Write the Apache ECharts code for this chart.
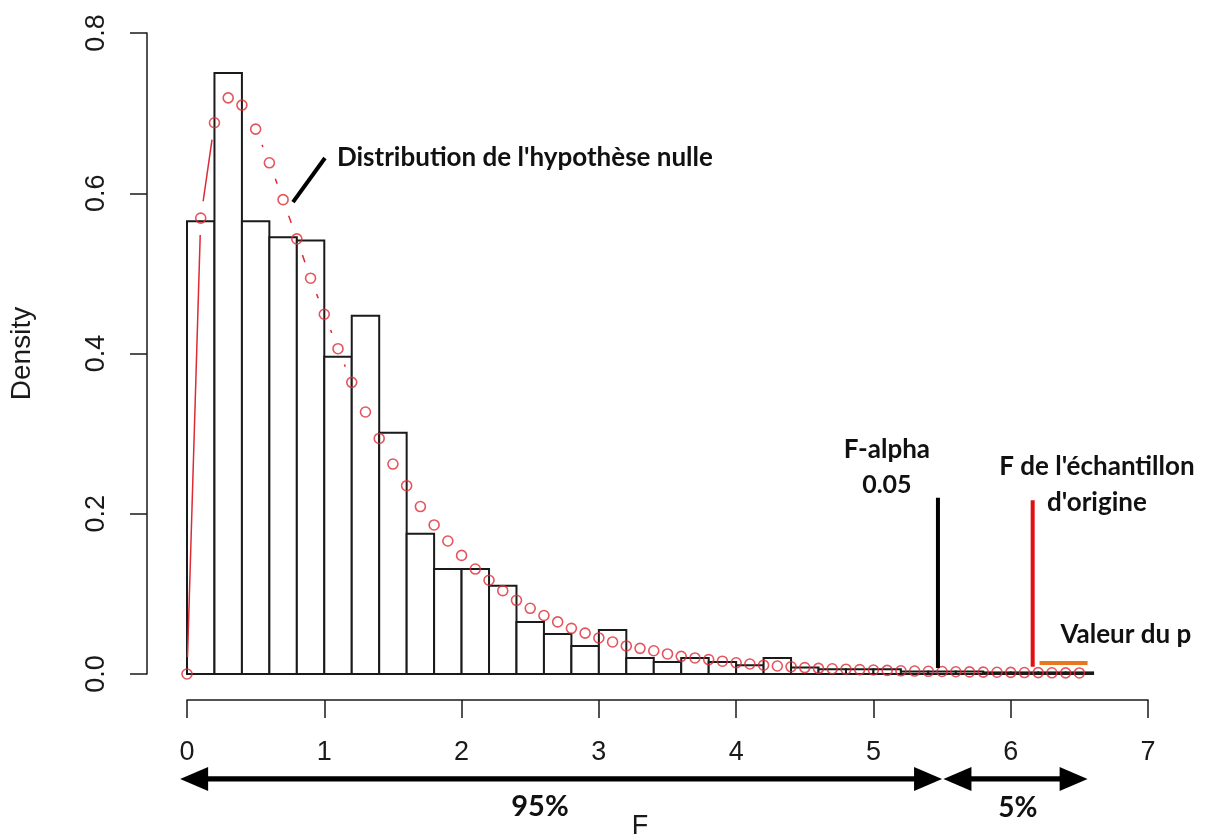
<!DOCTYPE html>
<html><head><meta charset="utf-8">
<script src="https://cdn.jsdelivr.net/npm/echarts@6/dist/echarts.min.js"></script>
<style>html,body{margin:0;padding:0;background:#fff}#c{width:1209px;height:836px}</style>
</head><body><div id="c"></div>
<script>
// ---------- data ----------
const binStarts = [0,0.2,0.4,0.6,0.8,1.0,1.2,1.4,1.6,1.8,2.0,2.2,2.4,2.6,2.8,3.0,3.2,3.4,3.6,3.8,4.0,4.2,4.4,4.6,4.8,5.0,5.2,5.4,5.6,5.8,6.0,6.2,6.4];
const binWidth = 0.2;
const histDensity = [0.565,0.750,0.565,0.545,0.541,0.396,0.447,0.301,0.175,0.131,0.131,0.110,0.065,0.050,0.035,0.055,0.020,0.015,0.020,0.015,0.011,0.020,0.008,0.006,0.006,0.006,0.003,0.003,0.003,0.002,0.002,0.002,0.002];
const curveX = [0,0.1,0.2,0.3,0.4,0.5,0.6,0.7,0.8,0.9,1.0,1.1,1.2,1.3,1.4,1.5,1.6,1.7,1.8,1.9,2.0,2.1,2.2,2.3,2.4,2.5,2.6,2.7,2.8,2.9,3.0,3.1,3.2,3.3,3.4,3.5,3.6,3.7,3.8,3.9,4.0,4.1,4.2,4.3,4.4,4.5,4.6,4.7,4.8,4.9,5.0,5.1,5.2,5.3,5.4,5.5,5.6,5.7,5.8,5.9,6.0,6.1,6.2,6.3,6.4,6.5];
const curveY = [0,0.569,0.688,0.719,0.710,0.680,0.638,0.592,0.543,0.494,0.449,0.406,0.364,0.327,0.294,0.262,0.235,0.209,0.186,0.166,0.148,0.131,0.117,0.104,0.092,0.082,0.073,0.065,0.057,0.051,0.045,0.040,0.035,0.032,0.029,0.025,0.022,0.020,0.018,0.016,0.014,0.0125,0.011,0.010,0.009,0.008,0.007,0.0065,0.006,0.0055,0.005,0.0045,0.004,0.0037,0.0034,0.0031,0.0028,0.0026,0.0024,0.0022,0.002,0.0018,0.0017,0.0015,0.0014,0.0013];
const xTickMin = 0, xTickMax = 7, xTickStep = 1;
const yTickMin = 0, yTickMax = 0.8, yTickStep = 0.2;

// annotations (data units)
const fAlpha = 5.47, fAlphaY = [0.0075, 0.22];
const fSample = 6.16, fSampleY = [0.009, 0.217];
const pValueSpan = [6.21, 6.56], pValueY = 0.0137;
const pointerLine = [[0.772, 0.589], [1.005, 0.644]];
const arrowSpans = [[-0.05, 5.50], [5.51, 6.56]];
const arrowY = -0.131;
const labelTexts = ["Distribution de l'hypothèse nulle", "F-alpha", "0.05", "F de l'échantillon", "d'origine", "Valeur du p", "95%", "5%"];
const labelX = [1.092, 5.098, 5.098, 6.628, 6.628, 6.839, 2.571, 6.052];
const labelY = [0.644, 0.2796, 0.2359, 0.2583, 0.2134, 0.0487, -0.166, -0.167];

// ---------- styles ----------
const RED = '#dd2a35';
const INK = '#1a1a1a';
const AXIS_FONT = '"Liberation Sans", Arial, Helvetica, sans-serif';
const ANN_FONT = 'Lato, "Open Sans", sans-serif';
const labelStyle = [
  {size:26, align:'left'}, {size:26, align:'center'}, {size:25, align:'center'},
  {size:26, align:'center'}, {size:26, align:'center'}, {size:26, align:'center'},
  {size:29, align:'center'}, {size:28, align:'center'}
];

const histData = binStarts.map((s, i) => [s, s + binWidth, histDensity[i]]);
const segData = curveX.slice(1).map((x, i) => [curveX[i], curveY[i], x, curveY[i + 1]]);
const pointData = curveX.map((x, i) => [x, curveY[i]]);

const chart = echarts.init(document.getElementById('c'), null, {renderer: 'canvas'});

const annSegs = [
  [fAlpha, fAlphaY[0], fAlpha, fAlphaY[1], '#000', 4],
  [fSample, fSampleY[0], fSample, fSampleY[1], '#e01010', 4],
  [pValueSpan[0], pValueY, pValueSpan[1], pValueY, '#e8781e', 4],
  [pointerLine[0][0], pointerLine[0][1], pointerLine[1][0], pointerLine[1][1], '#000', 4]
];

chart.setOption({
  animation: false,
  backgroundColor: '#fff',
  grid: {left: 187, right: 61, top: 33, bottom: 162, containLabel: false, outerBoundsMode: 'none'},
  xAxis: {
    type: 'value', min: xTickMin, max: xTickMax, interval: xTickStep, offset: 26,
    axisLine: {show: true, onZero: false, lineStyle: {color: INK, width: 1.5}},
    axisTick: {show: true, length: 18, lineStyle: {color: INK, width: 1.5}},
    axisLabel: {fontSize: 27, fontFamily: AXIS_FONT, color: INK, margin: 39},
    splitLine: {show: false},
    name: 'F', nameLocation: 'middle', nameGap: 113,
    nameTextStyle: {fontSize: 27, fontFamily: AXIS_FONT, color: INK, padding: [0, 55, 0, 0]}
  },
  yAxis: {
    type: 'value', min: yTickMin, max: yTickMax, interval: yTickStep, offset: 40,
    axisLine: {show: true, onZero: false, lineStyle: {color: INK, width: 1.5}},
    axisTick: {show: true, length: 17, lineStyle: {color: INK, width: 1.5}},
    axisLabel: {fontSize: 27, fontFamily: AXIS_FONT, color: INK, margin: 37, rotate: 90,
      formatter: v => v.toFixed(1)},
    splitLine: {show: false},
    name: 'Density', nameLocation: 'middle', nameGap: 111,
    nameTextStyle: {fontSize: 28, fontFamily: AXIS_FONT, color: INK}
  },
  series: [
    {
      type: 'custom', name: 'hist', data: histData, encode: {x: [0, 1], y: 2},
      renderItem: (params, api) => {
        const tl = api.coord([api.value(0), api.value(2)]);
        const br = api.coord([api.value(1), 0]);
        return {type: 'rect', shape: {x: tl[0], y: tl[1], width: br[0] - tl[0], height: br[1] - tl[1]},
          style: {fill: '#fff', stroke: INK, lineWidth: 2}};
      },
      z: 1
    },
    {
      type: 'custom', name: 'curveSegs', data: segData, encode: {x: [0, 2], y: [1, 3]},
      renderItem: (params, api) => {
        const p0 = api.coord([api.value(0), api.value(1)]);
        const p1 = api.coord([api.value(2), api.value(3)]);
        const dx = p1[0] - p0[0], dy = p1[1] - p0[1];
        const d = Math.hypot(dx, dy), gap = 17;
        if (d <= 2 * gap) return null;
        const ux = dx / d, uy = dy / d;
        return {type: 'line', shape: {x1: p0[0] + ux * gap, y1: p0[1] + uy * gap, x2: p1[0] - ux * gap, y2: p1[1] - uy * gap},
          style: {stroke: RED, lineWidth: 1.5}};
      },
      z: 3
    },
    {
      type: 'scatter', name: 'curve', data: pointData, symbol: 'circle', symbolSize: 10,
      itemStyle: {color: 'rgba(0,0,0,0)', borderColor: RED, borderWidth: 1.6},
      z: 4
    },
    {
      type: 'custom', name: 'annLines', data: annSegs.map(s => s.slice(0, 4)), encode: {x: [0, 2], y: [1, 3]},
      clip: false,
      renderItem: (params, api) => {
        const s = annSegs[params.dataIndex];
        const p0 = api.coord([s[0], s[1]]), p1 = api.coord([s[2], s[3]]);
        return {type: 'line', shape: {x1: p0[0], y1: p0[1], x2: p1[0], y2: p1[1]},
          style: {stroke: s[4], lineWidth: s[5], lineCap: 'butt'}};
      },
      z: 5
    },
    {
      type: 'custom', name: 'arrows', data: arrowSpans.map(a => [a[0], arrowY, a[1]]), encode: {x: [0, 2], y: 1},
      clip: false,
      renderItem: (params, api) => {
        const a = api.coord([api.value(0), api.value(1)]);
        const b = api.coord([api.value(2), api.value(1)]);
        const y = a[1], hl = 28, hw = 12, sw = 2.6;
        return {type: 'group', children: [
          {type: 'rect', shape: {x: a[0] + hl - 2, y: y - sw, width: b[0] - a[0] - 2 * hl + 4, height: 2 * sw}, style: {fill: '#000'}},
          {type: 'polygon', shape: {points: [[a[0], y], [a[0] + hl, y - hw], [a[0] + hl, y + hw]]}, style: {fill: '#000'}},
          {type: 'polygon', shape: {points: [[b[0], y], [b[0] - hl, y - hw], [b[0] - hl, y + hw]]}, style: {fill: '#000'}}
        ]};
      },
      z: 5
    },
    {
      type: 'custom', name: 'texts', data: labelX.map((x, i) => [x, labelY[i]]), encode: {x: 0, y: 1},
      clip: false,
      renderItem: (params, api) => {
        const i = params.dataIndex;
        const p = api.coord([api.value(0), api.value(1)]);
        const st = labelStyle[i];
        return {type: 'text', x: p[0], y: p[1],
          style: {text: labelTexts[i], fill: '#111', font: 'bold ' + st.size + 'px ' + ANN_FONT,
            align: st.align, verticalAlign: 'middle'}};
      },
      z: 6
    }
  ]
});
</script></body></html>
